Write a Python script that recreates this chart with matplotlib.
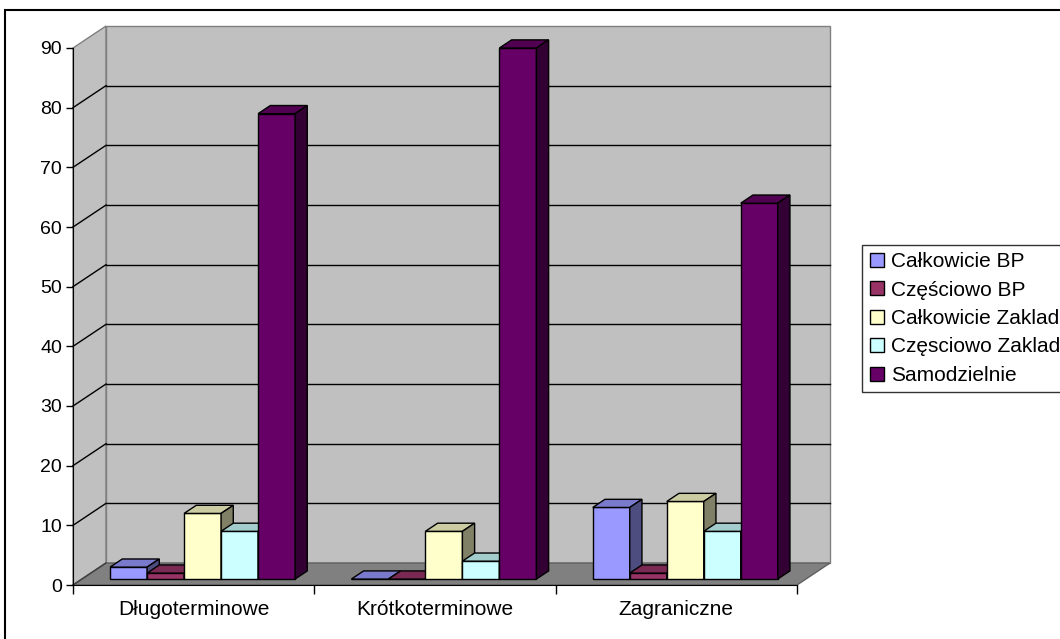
import matplotlib
matplotlib.use("Agg")
import matplotlib.pyplot as plt
from matplotlib.patches import Polygon, Rectangle
from matplotlib.lines import Line2D
import numpy as np

plt.rcParams['font.family'] = ['Liberation Sans', 'DejaVu Sans']

categories = ["Długoterminowe", "Krótkoterminowe", "Zagraniczne"]
series_names = ["Całkowicie BP", "Częściowo BP", "Całkowicie Zaklad",
                "Częsciowo Zaklad", "Samodzielnie"]
calkowicie_bp = [2, 0, 12]
czesciowo_bp = [1, 0, 1]
calkowicie_zaklad = [11, 8, 13]
czesciowo_zaklad = [8, 3, 8]
samodzielnie = [78, 89, 63]
series_values = [calkowicie_bp, czesciowo_bp, calkowicie_zaklad,
                 czesciowo_zaklad, samodzielnie]
y_ticks = list(range(0, 100, 10))

colors = ["#9999FF", "#993366", "#FFFFCC", "#CCFFFF", "#660066"]

W, H = 1060, 639
fig = plt.figure(figsize=(W / 100, H / 100), dpi=100)

# front plane in pixels
x0p, x1p, y0p, y1p = 73, 797, 585, 48
ax = fig.add_axes([x0p / W, (H - y0p) / H, (x1p - x0p) / W, (y0p - y1p) / H])
ymax = 90
ax.set_xlim(0, 3)
ax.set_ylim(0, ymax)
ax.set_facecolor('none')

pxx = (x1p - x0p) / 3.0
pxy = (y0p - y1p) / ymax
DX = 33 / pxx
DY = 22 / pxy

def shade(c, f):
    r, g, b = matplotlib.colors.to_rgb(c)
    return (r * f, g * f, b * f)

# walls
ax.add_patch(Polygon([(0, 0), (DX, DY), (DX, ymax + DY), (0, ymax)], closed=True,
                     facecolor="#C0C0C0", edgecolor="#808080", lw=1, clip_on=False, zorder=0))
ax.add_patch(Polygon([(DX, DY), (3 + DX, DY), (3 + DX, ymax + DY), (DX, ymax + DY)], closed=True,
                     facecolor="#C0C0C0", edgecolor="#808080", lw=1, clip_on=False, zorder=0))
# gridlines
for t in y_ticks[1:-1]:
    ax.plot([DX, 3 + DX], [t + DY, t + DY], color="black", lw=1, clip_on=False, zorder=0.5)
    ax.plot([0, DX], [t, t + DY], color="black", lw=1, clip_on=False, zorder=0.5)
# floor
ax.add_patch(Polygon([(0, 0), (3, 0), (3 + DX, DY), (DX, DY)], closed=True,
                     facecolor="#808080", edgecolor="#606060", lw=1, clip_on=False, zorder=1))
ax.plot([0, DX], [0, DY], color="#404040", lw=1, clip_on=False, zorder=1.1)

# bars
nser = len(series_values)
bw = 37 / pxx
gap = (1 - nser * bw) / 2
f0 = 0.27
fd = 0.37
bdx, bdy = fd * DX, fd * DY
ox, oy = f0 * DX, f0 * DY
z = 3
for ci in range(len(categories)):
    for si in range(nser):
        v = series_values[si][ci]
        c = colors[si]
        xl = ci + gap + si * bw + ox
        ax.bar(xl, v, width=bw, bottom=oy, align='edge', color=c, edgecolor="black",
               lw=1, zorder=z, clip_on=False)
        top = v + oy
        ax.add_patch(Polygon([(xl, top), (xl + bw, top), (xl + bw + bdx, top + bdy),
                              (xl + bdx, top + bdy)], closed=True, facecolor=shade(c, 0.8),
                             edgecolor="black", lw=1, zorder=z, clip_on=False))
        if v > 0:
            ax.add_patch(Polygon([(xl + bw, oy), (xl + bw + bdx, oy + bdy),
                                  (xl + bw + bdx, top + bdy), (xl + bw, top)], closed=True,
                                 facecolor=shade(c, 0.5), edgecolor="black", lw=1,
                                 zorder=z, clip_on=False))
        z += 0.01

# axes styling
for s in ['top', 'right']:
    ax.spines[s].set_visible(False)
ax.spines['left'].set_color('black')
ax.spines['bottom'].set_color('black')
ax.spines['left'].set_zorder(2)
ax.spines['bottom'].set_zorder(2)
ax.set_yticks(y_ticks)
ax.set_yticklabels([str(t) for t in y_ticks])
ax.tick_params(axis='y', direction='out', length=5, width=1, pad=3, labelsize=14)
ax.set_xticks([0, 1, 2, 3])
ax.set_xticklabels([])
ax.set_xticks([0.5, 1.5, 2.5], minor=True)
ax.set_xticklabels(categories, minor=True)
ax.tick_params(axis='x', which='major', direction='out', length=6.5, width=1)
ax.tick_params(axis='x', which='minor', length=0, pad=11, labelsize=15)

# legend
handles = [Line2D([], [], marker='s', linestyle='none', markersize=10,
                  markerfacecolor=c, markeredgecolor='black', markeredgewidth=1)
           for c in colors]
leg = fig.legend(handles, series_names, loc='upper left',
                 bbox_to_anchor=(862 / W, (H - 245) / H), frameon=True,
                 fontsize=15, handlelength=0.7, handletextpad=0.35,
                 labelspacing=0.45, borderpad=0.35, borderaxespad=0, fancybox=False)
leg.get_frame().set_edgecolor('black')
leg.get_frame().set_linewidth(1)

# outer frame
fig.patches.append(Rectangle((5 / W, -0.05), 1.2, (H - 10) / H + 0.05, transform=fig.transFigure,
                             fill=False, edgecolor='black', lw=1.5))

fig.savefig("out.png", dpi=100)
